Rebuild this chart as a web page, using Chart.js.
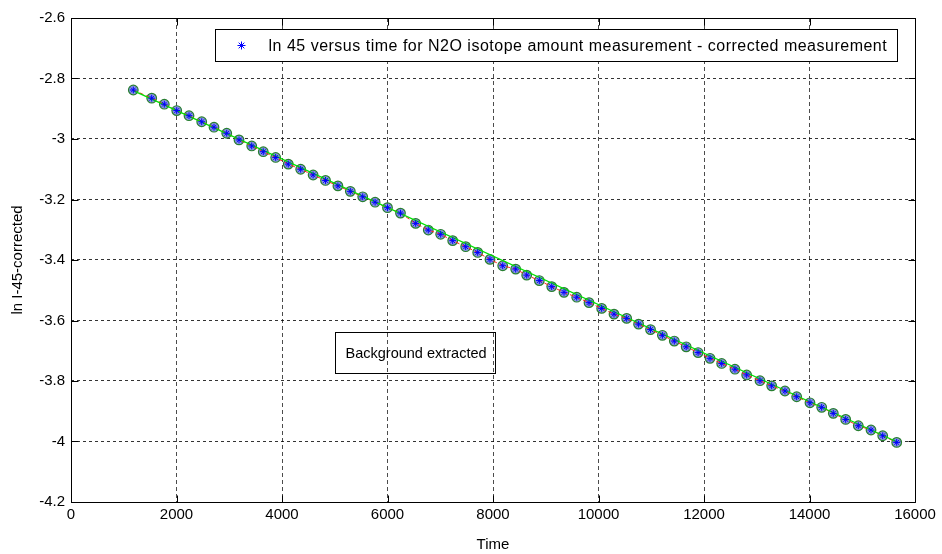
<!DOCTYPE html>
<html>
<head>
<meta charset="utf-8">
<script src="https://cdn.jsdelivr.net/npm/chart.js@4/dist/chart.umd.min.js"></script>
<style>
  html, body { margin: 0; padding: 0; background: #fff; }
  #wrap { width: 942px; height: 554px; }
</style>
</head>
<body>
<div id="wrap"><canvas id="c" width="942" height="554"></canvas></div>
<script>
// Measurement times (s)
const times = [
  1181, 1530, 1769, 2004, 2237, 2478, 2711, 2952, 3185, 3426,
  3645, 3880, 4119, 4354, 4590, 4825, 5060, 5295, 5530, 5765,
  6000, 6246, 6534, 6773, 7008, 7236, 7482, 7710, 7943, 8184,
  8430, 8639, 8878, 9113, 9346, 9587, 9820, 10060, 10294, 10534,
  10760, 10986, 11211, 11437, 11662, 11888, 12114, 12335, 12587, 12809,
  13061, 13283, 13535, 13757, 14009, 14231, 14451, 14686, 14925, 15166,
  15388, 15653
];

// ln of the corrected 45 ion current
const lnValues = [
  -2.838, -2.865, -2.885, -2.906, -2.923, -2.943, -2.961, -2.981, -3.003, -3.023,
  -3.042, -3.061, -3.083, -3.100, -3.119, -3.137, -3.155, -3.173, -3.191, -3.209,
  -3.227, -3.245, -3.279, -3.301, -3.315, -3.336, -3.356, -3.375, -3.398, -3.419,
  -3.430, -3.450, -3.468, -3.488, -3.507, -3.523, -3.541, -3.560, -3.579, -3.593,
  -3.612, -3.630, -3.649, -3.668, -3.687, -3.706, -3.725, -3.742, -3.761, -3.780,
  -3.799, -3.816, -3.833, -3.852, -3.872, -3.887, -3.907, -3.927, -3.948, -3.962,
  -3.981, -4.003
];

// Straight-line fit end points
const fitTimes = [1181, 15653];
const fitValues = [-2.840, -4.001];

// Axis ticks
const xTicks = [0, 2000, 4000, 6000, 8000, 10000, 12000, 14000, 16000];
const xTickLabels = ['0', '2000', '4000', '6000', '8000', '10000', '12000', '14000', '16000'];
const yTicks = [-4.2, -4.0, -3.8, -3.6, -3.4, -3.2, -3.0, -2.8, -2.6];
const yTickLabels = ['-4.2', '-4', '-3.8', '-3.6', '-3.4', '-3.2', '-3', '-2.8', '-2.6'];

const legendText = 'ln 45 versus time for N2O isotope amount measurement - corrected measurement';
const noteText = 'Background extracted';
const xTitle = 'Time';
const yTitle = 'ln I-45-corrected';

const FONT = "'Liberation Sans', Arial, Helvetica, sans-serif";

const points = times.map((t, i) => ({ x: t, y: lnValues[i] }));
const fitPoints = fitTimes.map((t, i) => ({ x: t, y: fitValues[i] }));

// Box frame, inward ticks, legend and the annotation box
const framePlugin = {
  id: 'frame',
  afterDraw(chart) {
    const ctx = chart.ctx;
    const ca = chart.chartArea;
    const xs = chart.scales.x, ys = chart.scales.y;
    const L = Math.round(ca.left) + 0.5, R = Math.round(ca.right) + 0.5;
    const T = Math.round(ca.top) + 0.5, B = Math.round(ca.bottom) + 0.5;
    ctx.save();
    ctx.strokeStyle = '#000';
    ctx.lineWidth = 1;
    ctx.setLineDash([]);
    ctx.beginPath();
    ctx.rect(L, T, R - L, B - T);
    ctx.stroke();

    // inward tick marks on all four sides
    const tl = 7;
    ctx.beginPath();
    xTicks.forEach(v => {
      const px = Math.round(xs.getPixelForValue(v)) + 0.5;
      ctx.moveTo(px, B); ctx.lineTo(px, B - tl);
      ctx.moveTo(px, T); ctx.lineTo(px, T + tl);
    });
    yTicks.forEach(v => {
      const py = Math.round(ys.getPixelForValue(v)) + 0.5;
      ctx.moveTo(L, py); ctx.lineTo(L + tl, py);
      ctx.moveTo(R, py); ctx.lineTo(R - tl, py);
    });
    ctx.stroke();

    // legend
    const lgL = Math.round(ca.left + 144) + 0.5, lgT = Math.round(ca.top + 11) + 0.5;
    const lgR = Math.round(ca.right - 18) + 0.5, lgB = Math.round(ca.top + 43) + 0.5;
    ctx.fillStyle = '#fff';
    ctx.fillRect(lgL, lgT, lgR - lgL, lgB - lgT);
    ctx.strokeStyle = '#000';
    ctx.strokeRect(lgL, lgT, lgR - lgL, lgB - lgT);
    const midY = (lgT + lgB) / 2;
    ctx.strokeStyle = '#0000ff';
    Chart.helpers.drawPoint(ctx, { pointStyle: 'star', radius: 4, borderWidth: 1, rotation: 0 }, lgL + 26, midY);
    ctx.fillStyle = '#000';
    ctx.font = '16px ' + FONT;
    ctx.textBaseline = 'middle';
    ctx.textAlign = 'left';
    // spread the legend entry across the box, leaving a small right margin
    const textX = lgL + 53;
    const avail = (lgR - 11) - textX;
    const natural = ctx.measureText(legendText).width;
    const spacing = Math.max(0, (avail - natural) / (legendText.length - 1));
    ctx.letterSpacing = spacing.toFixed(2) + 'px';
    ctx.fillText(legendText, textX, midY + 1);
    ctx.letterSpacing = '0px';

    // annotation box
    const nL = Math.round(ca.left + 264) + 0.5, nT = Math.round(ca.top + 314) + 0.5;
    const nR = Math.round(ca.left + 424) + 0.5, nB = Math.round(ca.top + 355) + 0.5;
    ctx.strokeStyle = '#000';
    ctx.strokeRect(nL, nT, nR - nL, nB - nT);
    ctx.fillStyle = '#000';
    ctx.font = '14.5px ' + FONT;
    ctx.fillText(noteText, nL + 10, (nT + nB) / 2 + 1);
    ctx.restore();
  }
};

new Chart(document.getElementById('c'), {
  type: 'scatter',
  data: {
    datasets: [
      {
        label: 'asterisks',
        data: points,
        pointStyle: 'star',
        pointRadius: 3.4,
        borderColor: '#0000ff',
        backgroundColor: '#0000ff',
        borderWidth: 1,
        showLine: false,
        order: 0
      },
      {
        label: 'fit',
        data: fitPoints,
        showLine: true,
        borderColor: '#00e000',
        borderWidth: 1.2,
        pointRadius: 0,
        order: 1
      },
      {
        label: 'connected',
        data: points,
        showLine: true,
        borderColor: '#ff2020',
        borderWidth: 1,
        borderDash: [4, 3],
        pointRadius: 0,
        order: 2
      },
      {
        label: 'circles',
        data: points,
        pointStyle: 'circle',
        pointRadius: 4.8,
        borderColor: '#287f30',
        backgroundColor: 'rgba(110,125,210,0.8)',
        borderWidth: 1.2,
        showLine: false,
        order: 3
      }
    ]
  },
  options: {
    responsive: false,
    animation: false,
    devicePixelRatio: 1,
    layout: { padding: { top: 18, right: 27, left: 0, bottom: 0 } },
    plugins: {
      legend: { display: false },
      tooltip: { enabled: false }
    },
    scales: {
      x: {
        type: 'linear',
        min: 0,
        max: 16000,
        afterFit: s => { s.height = 52; },
        afterBuildTicks: s => { s.ticks = xTicks.map(v => ({ value: v })); },
        ticks: {
          color: '#000',
          font: { family: FONT, size: 15 },
          padding: 4,
          maxRotation: 0,
          autoSkip: false,
          callback: (v, i) => xTickLabels[i]
        },
        grid: { color: 'rgba(0,0,0,0.7)', lineWidth: 1, drawTicks: false },
        border: { display: false, dash: [4, 3] },
        title: {
          display: true,
          text: xTitle,
          color: '#000',
          font: { family: FONT, size: 15 },
          padding: { top: 3, bottom: 0 }
        }
      },
      y: {
        type: 'linear',
        min: -4.2,
        max: -2.6,
        afterFit: s => { s.width = 71; },
        afterBuildTicks: s => { s.ticks = yTicks.map(v => ({ value: v })); },
        ticks: {
          color: '#000',
          font: { family: FONT, size: 15 },
          padding: 6,
          autoSkip: false,
          callback: (v, i) => yTickLabels[i]
        },
        grid: { color: 'rgba(0,0,0,0.8)', lineWidth: 1, drawTicks: false },
        border: { display: false, dash: [3, 3] },
        title: {
          display: true,
          text: yTitle,
          color: '#000',
          font: { family: FONT, size: 15 },
          padding: { top: 9, bottom: 0 }
        }
      }
    }
  },
  plugins: [framePlugin]
});
</script>
</body>
</html>
